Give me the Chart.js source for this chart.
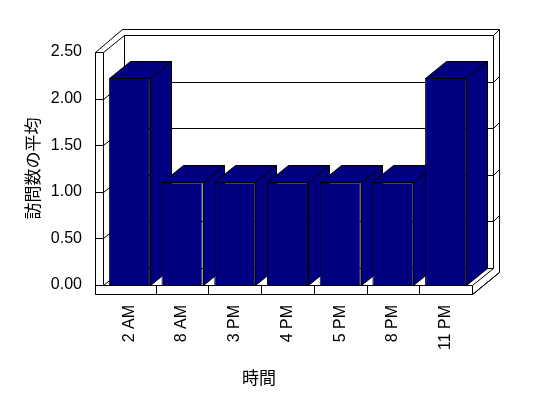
<!DOCTYPE html>
<html>
<head>
  <meta charset="UTF-8">
  <title>訪問数の平均</title>
  <script src="https://cdn.jsdelivr.net/npm/chart.js"></script>
  <style>
    body {
      margin: 0;
      background: #ffffff;
    }
    .chart-container {
      position: relative;
      width: 548px;
      height: 398px;
    }
  </style>
</head>
<body>
  <div class="chart-container">
    <canvas id="visitChart"></canvas>
  </div>

  <script>
    // data
    const hours = ['2 AM', '8 AM', '3 PM', '4 PM', '5 PM', '8 PM', '11 PM'];
    const avgVisits = [2.22, 1.1, 1.1, 1.1, 1.1, 1.1, 2.22];
    const yTickValues = [0, 0.5, 1, 1.5, 2, 2.5];
    const xTitle = '時間';
    const yTitle = '訪問数の平均';

    const BAR = '#000080';
    const DX = 21, DY = -17;   // depth of the box
    const WALL = 8, SLAB = 9;  // wall / floor thickness

    function line(ctx, pts) {
      ctx.beginPath();
      pts.forEach(([x, y], i) => i ? ctx.lineTo(x, y) : ctx.moveTo(x, y));
      ctx.stroke();
    }
    function face(ctx, pts, fill) {
      ctx.beginPath();
      pts.forEach(([x, y], i) => i ? ctx.lineTo(x, y) : ctx.moveTo(x, y));
      ctx.closePath();
      ctx.fillStyle = fill;
      ctx.fill();
      ctx.stroke();
    }
    const px = v => Math.round(v) + 0.5;

    // 3d box + bar tops/sides
    const box3d = {
      id: 'box3d',
      beforeDatasetsDraw(chart) {
        const ctx = chart.ctx;
        const a = chart.chartArea;
        const L = px(a.left), R = px(a.right), T = px(a.top), B = px(a.bottom);
        const ys = chart.scales.y, xs = chart.scales.x;
        ctx.save();
        ctx.lineWidth = 1;
        ctx.strokeStyle = '#000';

        // outer hull white
        face(ctx, [[L - WALL, T], [L - WALL + DX + 6, T + DY - 6], [R + DX + 6, T + DY - 6],
          [R + DX + 6, B + SLAB + DY - 5], [R, B + SLAB], [L - WALL, B + SLAB]], '#fff');

        // back wall
        line(ctx, [[L + DX, B + DY], [L + DX, T + DY], [R + DX, T + DY], [R + DX, B + DY]]);
        line(ctx, [[R + DX, T + DY], [R + DX + 6, T + DY - 6]]);
        // left wall
        line(ctx, [[L, T], [L + DX, T + DY]]);
        face(ctx, [[L - WALL, T], [L, T], [L, B], [L - WALL, B]], '#fff');

        // grid lines
        yTickValues.slice(1, -1).forEach(v => {
          const y = px(ys.getPixelForValue(v));
          line(ctx, [[L - WALL, y], [L, y], [L + DX, y + DY], [R + DX, y + DY], [R + DX + 6, y + DY - 6]]);
        });

        // floor
        line(ctx, [[L, B], [L + DX, B + DY], [R + DX, B + DY], [R, B]]);
        line(ctx, [[R, B + SLAB], [R + DX + 6, B + SLAB + DY - 5]]);
        face(ctx, [[L - WALL, B], [R, B], [R, B + SLAB], [L - WALL, B + SLAB]], '#fff');
        const step = xs.getPixelForValue(1) - xs.getPixelForValue(0);
        for (let i = 0; i < hours.length - 1; i++) {
          const x = px(xs.getPixelForValue(i) + step / 2);
          line(ctx, [[x, B], [x, B + SLAB]]);
        }

        // bar tops and sides
        chart.getDatasetMeta(0).data.forEach(bar => {
          const l = px(bar.x - bar.width / 2), r = px(bar.x + bar.width / 2);
          const t = px(bar.y), b = px(bar.base);
          face(ctx, [[r, t], [r + DX, t + DY], [r + DX, b + DY], [r, b]], BAR);
          face(ctx, [[l, t], [r, t], [r + DX, t + DY], [l + DX, t + DY]], BAR);
        });
        ctx.restore();
      },
      afterDraw(chart) {
        const ctx = chart.ctx;
        ctx.save();
        ctx.fillStyle = '#000';
        ctx.font = '17px "Noto Sans CJK JP"';
        ctx.textAlign = 'center';
        ctx.textBaseline = 'middle';
        ctx.fillText(xTitle, chart.width / 2 - 15, 378);
        ctx.restore();
      }
    };

    Chart.defaults.color = '#000';
    Chart.defaults.font.family = '"Liberation Sans", Arial, sans-serif';
    Chart.defaults.font.size = 16;

    const ctx = document.getElementById('visitChart').getContext('2d');
    new Chart(ctx, {
      type: 'bar',
      data: {
        labels: hours,
        datasets: [{
          data: avgVisits,
          backgroundColor: BAR,
          borderColor: '#000',
          borderWidth: 1,
          categoryPercentage: 1,
          barPercentage: 0.78
        }]
      },
      options: {
        responsive: true,
        maintainAspectRatio: false,
        animation: false,
        layout: { padding: { top: 52, right: 76, left: 0, bottom: 0 } },
        plugins: {
          legend: { display: false },
          tooltip: { enabled: false }
        },
        scales: {
          x: {
            grid: { display: false, drawTicks: false },
            border: { display: false },
            ticks: { padding: 20, minRotation: 90, maxRotation: 90, autoSkip: false },
            afterFit: s => { s.height = 113; }
          },
          y: {
            min: 0,
            max: 2.5,
            grid: { display: false, drawTicks: false },
            border: { display: false },
            ticks: { stepSize: 0.5, padding: 21, callback: v => v.toFixed(2) },
            title: {
              display: true,
              text: yTitle,
              font: { family: '"Noto Sans CJK JP"', size: 17 },
              padding: { top: 22, bottom: 0 }
            },
            afterFit: s => { s.width = 103; }
          }
        }
      },
      plugins: [box3d]
    });
  </script>
</body>
</html>
